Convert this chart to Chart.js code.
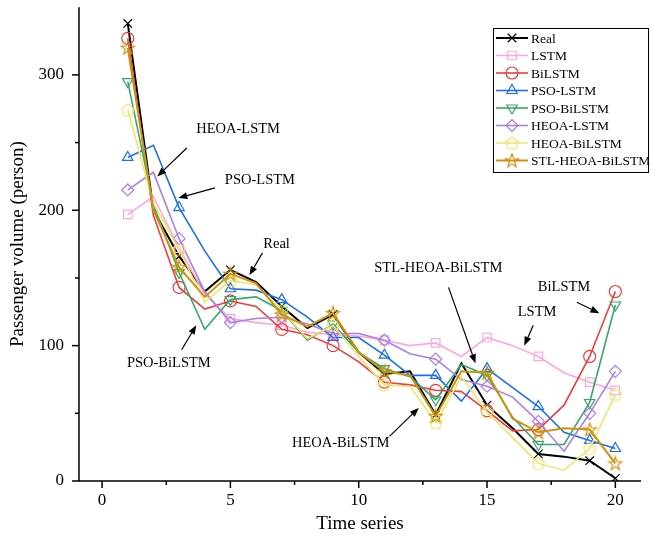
<!DOCTYPE html>
<html>
<head>
<meta charset="utf-8">
<script src="https://cdn.jsdelivr.net/npm/chart.js@4"></script>
<style>
  html, body { margin: 0; padding: 0; background: #fff; }
  #wrap { width: 651px; height: 540px; }
</style>
</head>
<body>
<div id="wrap"><canvas id="chart" width="651" height="540"></canvas></div>
<script>
// ===== Data =====
const timeSteps = [1, 2, 3, 4, 5, 6, 7, 8, 9, 10, 11, 12, 13, 14, 15, 16, 17, 18, 19, 20];
const real       = [338, 200, 166, 140, 156, 147, 129, 113, 123, 95, 79, 81, 49, 87, 56, 39, 20, 18, 15, 2];
const lstm       = [197, 210, 172, 138, 120, 117, 115, 110, 108, 107, 104, 100, 102, 92, 106, 100, 92, 80, 73, 67];
const bilstm     = [327, 196, 143, 127, 133, 129, 112, 108, 100, 88, 73, 71, 67, 66, 52, 37, 38, 56, 92, 140];
const psoLstm    = [239, 248, 202, 170, 142, 141, 134, 121, 106, 106, 93, 78, 78, 59, 83, 69, 55, 36, 30, 24];
const psoBilstm  = [295, 204, 154, 112, 134, 136, 126, 104, 116, 95, 83, 77, 60, 86, 78, 47, 27, 27, 58, 130];
const heoaLstm   = [215, 228, 179, 140, 117, 120, 121, 116, 109, 109, 104, 94, 90, 75, 70, 62, 44, 22, 50, 81];
const heoaBilstm = [274, 205, 171, 132, 148, 145, 126, 105, 115, 92, 71, 70, 43, 77, 51, 32, 13, 8, 24, 64];
const stlHeoa    = [320, 200, 158, 136, 153, 146, 123, 114, 124, 95, 81, 78, 48, 81, 80, 46, 36, 39, 38, 13];

const xTickLabels = [0, 5, 10, 15, 20];
const yTickLabels = [0, 100, 200, 300];

// label, arrow tail, arrow head (data coords)
const notes = [
  { text: "HEOA-LSTM", x: 5.3, y: 260, from: [3.3, 246], to: [2.15, 225] },
  { text: "PSO-LSTM", x: 6.15, y: 222, from: [4.4, 216.5], to: [2.97, 209] },
  { text: "Real", x: 6.8, y: 175, from: [6.25, 168.5], to: [5.74, 152] },
  { text: "PSO-BiLSTM", x: 2.6, y: 87, from: [3.1, 97], to: [3.67, 115] },
  { text: "STL-HEOA-BiLSTM", x: 13.1, y: 157, from: [13.5, 143], to: [14.55, 87] },
  { text: "LSTM", x: 16.95, y: 125, from: [16.8, 115], to: [16.45, 100] },
  { text: "BiLSTM", x: 18.0, y: 143, from: [18.5, 132], to: [19.38, 124] },
  { text: "HEOA-BiLSTM", x: 9.3, y: 28, from: [11.2, 33], to: [12.34, 54] }
];

const FONT = "'Liberation Serif', 'Times New Roman', serif";

// ===== Custom markers (pentagon, star) =====
function makeMarker(kind, color) {
  const s = 16;
  const c = document.createElement("canvas");
  c.width = s; c.height = s;
  const g = c.getContext("2d");
  g.strokeStyle = color;
  g.lineWidth = 1.2;
  g.beginPath();
  const n = kind === "star" ? 10 : 5;
  for (let i = 0; i < n; i++) {
    const a = -Math.PI / 2 + i * 2 * Math.PI / n;
    const r = kind === "star" ? (i % 2 ? 2.8 : 7) : 6.5;
    const px = s / 2 + r * Math.cos(a), py = s / 2 + 0.5 + r * Math.sin(a);
    if (i === 0) g.moveTo(px, py); else g.lineTo(px, py);
  }
  g.closePath();
  g.stroke();
  return c;
}

// marker every second point plus the last one
const markerRadius = timeSteps.map((t, i) => (i % 2 === 0 || i === timeSteps.length - 1) ? 6 : 0);

let seriesCount = 0;
function series(label, data, color, style, opts = {}) {
  seriesCount++;
  return {
    label,
    data: timeSteps.map((t, i) => ({ x: t, y: data[i] })),
    borderColor: color,
    backgroundColor: "rgba(0,0,0,0)",
    borderWidth: opts.width || 1.6,
    pointStyle: style,
    pointRotation: opts.rot || 0,
    pointRadius: markerRadius,
    pointBorderWidth: 1.2,
    pointBorderColor: color,
    pointBackgroundColor: "rgba(0,0,0,0)",
    tension: 0,
    order: -seriesCount // later series on top, like the original plot
  };
}

const datasets = [
  series("Real", real, "#000000", "crossRot", { width: 2 }),
  series("LSTM", lstm, "#ffa8d8", "rect"),
  series("BiLSTM", bilstm, "#ee3b3b", "circle"),
  series("PSO-LSTM", psoLstm, "#1e6ee6", "triangle"),
  series("PSO-BiLSTM", psoBilstm, "#38a66a", "triangle", { rot: 180 }),
  series("HEOA-LSTM", heoaLstm, "#ad7ee6", "rectRot"),
  series("HEOA-BiLSTM", heoaBilstm, "#efe56e", makeMarker("pentagon", "#efe56e")),
  series("STL-HEOA-BiLSTM", stlHeoa, "#cc940e", makeMarker("star", "#cc940e"), { width: 2 })
];

// ===== Plugins: ticks, annotations, legend =====
const tickPlugin = {
  id: "ticks",
  afterDraw(chart) {
    const { ctx, scales: { x, y } } = chart;
    ctx.save();
    ctx.strokeStyle = "#000";
    ctx.lineWidth = 1.5;
    x.ticks.forEach(t => {
      const px = x.getPixelForValue(t.value);
      const len = t.value % 5 === 0 ? 7 : 4;
      ctx.beginPath(); ctx.moveTo(px, y.bottom); ctx.lineTo(px, y.bottom + len); ctx.stroke();
    });
    y.ticks.forEach(t => {
      const py = y.getPixelForValue(t.value);
      const len = t.value % 100 === 0 ? 7 : 4;
      ctx.beginPath(); ctx.moveTo(x.left, py); ctx.lineTo(x.left - len, py); ctx.stroke();
    });
    // axis lines
    ctx.beginPath();
    ctx.moveTo(x.left, y.top); ctx.lineTo(x.left, y.bottom); ctx.lineTo(x.right, y.bottom);
    ctx.stroke();
    ctx.restore();
  }
};

const notePlugin = {
  id: "notes",
  afterDatasetsDraw(chart) {
    const { ctx, scales: { x, y } } = chart;
    ctx.save();
    ctx.font = "14.5px " + FONT;
    ctx.fillStyle = "#000";
    ctx.strokeStyle = "#000";
    ctx.lineWidth = 1.2;
    ctx.textAlign = "center";
    ctx.textBaseline = "middle";
    notes.forEach(n => {
      ctx.fillText(n.text, x.getPixelForValue(n.x), y.getPixelForValue(n.y));
      const x0 = x.getPixelForValue(n.from[0]), y0 = y.getPixelForValue(n.from[1]);
      const x1 = x.getPixelForValue(n.to[0]), y1 = y.getPixelForValue(n.to[1]);
      const a = Math.atan2(y1 - y0, x1 - x0);
      const hl = 9, hw = 3.5;
      const bx = x1 - hl * Math.cos(a), by = y1 - hl * Math.sin(a);
      ctx.beginPath(); ctx.moveTo(x0, y0); ctx.lineTo(bx, by); ctx.stroke();
      ctx.beginPath();
      ctx.moveTo(x1, y1);
      ctx.lineTo(bx + hw * Math.sin(a), by - hw * Math.cos(a));
      ctx.lineTo(bx - hw * Math.sin(a), by + hw * Math.cos(a));
      ctx.closePath(); ctx.fill();
    });
    ctx.restore();
  }
};

const legendPlugin = {
  id: "boxLegend",
  afterDraw(chart) {
    const { ctx } = chart;
    const left = 493, top = 28, w = 155, rowH = 17.5;
    ctx.save();
    ctx.fillStyle = "#fff";
    ctx.fillRect(left, top, w, rowH * datasets.length + 4);
    ctx.strokeStyle = "#000";
    ctx.lineWidth = 1;
    ctx.strokeRect(left + 0.5, top + 0.5, w, rowH * datasets.length + 4);
    ctx.font = "13.5px " + FONT;
    ctx.textBaseline = "middle";
    datasets.forEach((d, i) => {
      const cy = top + 10 + i * rowH;
      ctx.strokeStyle = d.borderColor;
      ctx.lineWidth = d.borderWidth;
      ctx.beginPath(); ctx.moveTo(left + 3, cy); ctx.lineTo(left + 35, cy); ctx.stroke();
      ctx.lineWidth = 1.2;
      ctx.fillStyle = "rgba(0,0,0,0)";
      Chart.helpers.drawPoint(ctx, {
        pointStyle: d.pointStyle, rotation: d.pointRotation, radius: 6, borderWidth: 1.2
      }, left + 19, cy);
      ctx.fillStyle = "#000";
      ctx.fillText(d.label, left + 38, cy + 1);
    });
    ctx.restore();
  }
};

// ===== Chart =====
new Chart(document.getElementById("chart"), {
  type: "line",
  data: { datasets },
  options: {
    responsive: false,
    animation: false,
    layout: { padding: { top: 6, right: 10, left: 0, bottom: 0 } },
    plugins: { legend: { display: false }, tooltip: { enabled: false } },
    scales: {
      x: {
        type: "linear",
        min: -0.9,
        max: 21,
        afterBuildTicks: s => {
          s.ticks = [];
          for (let v = 0; v <= 20; v += 2.5) s.ticks.push({ value: v });
        },
        afterFit: s => { s.height = 59; s.paddingLeft = 0; s.paddingRight = 0; },
        grid: { display: false },
        border: { display: false },
        ticks: {
          autoSkip: false,
          maxRotation: 0,
          padding: 1,
          color: "#000",
          font: { family: FONT, size: 17 },
          callback: v => xTickLabels.includes(v) ? String(v) : ""
        },
        title: { display: true, text: "Time series", color: "#000", font: { family: FONT, size: 19 }, padding: { top: 0, bottom: 5 } }
      },
      y: {
        min: 0,
        max: 350,
        afterBuildTicks: s => {
          s.ticks = [];
          for (let v = 0; v <= 300; v += 50) s.ticks.push({ value: v });
        },
        afterFit: s => { s.width = 79; s.paddingTop = 0; s.paddingBottom = 0; },
        grid: { display: false },
        border: { display: false },
        ticks: {
          autoSkip: false,
          padding: 7,
          color: "#000",
          font: { family: FONT, size: 17 },
          callback: v => yTickLabels.includes(v) ? String(v) : ""
        },
        title: { display: true, text: "Passenger volume (person)", color: "#000", font: { family: FONT, size: 19 }, padding: { top: 7, bottom: 0 } }
      }
    }
  },
  plugins: [tickPlugin, notePlugin, legendPlugin]
});
</script>
</body>
</html>
